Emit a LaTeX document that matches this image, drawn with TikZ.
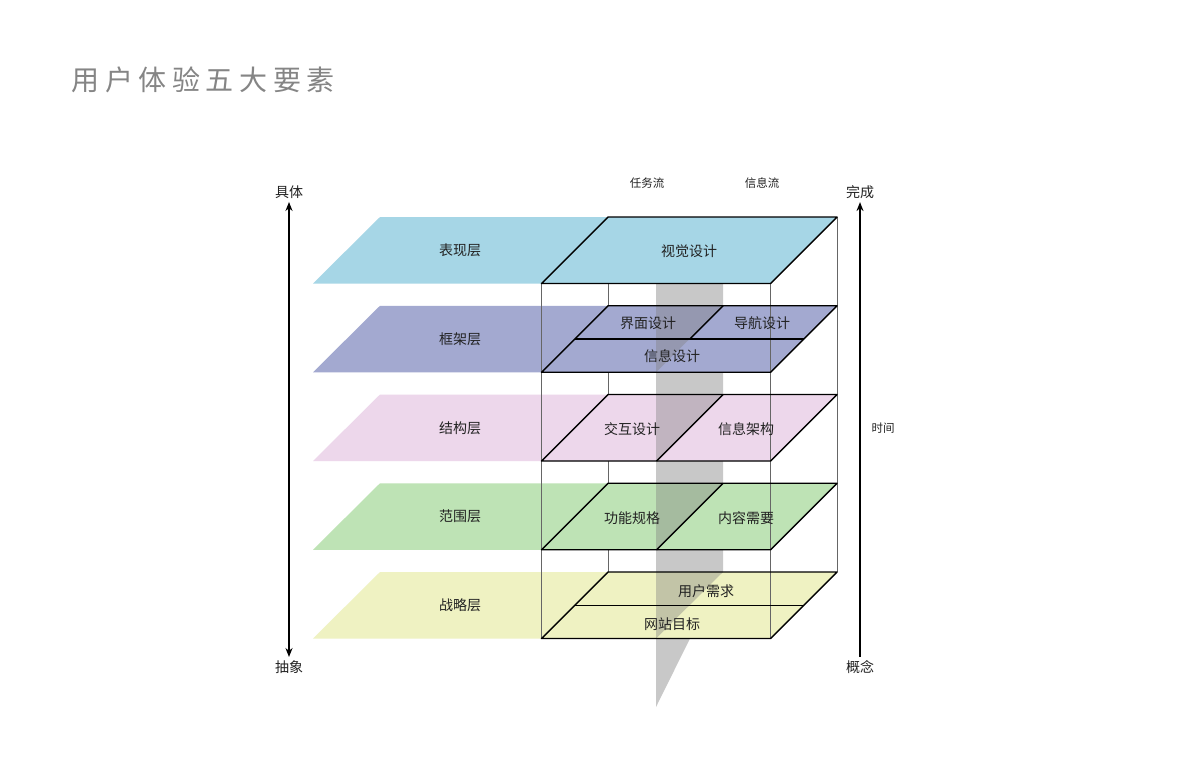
\documentclass[tikz,border=0pt]{standalone}
\usepackage{fontspec}
\setmainfont{Noto Sans CJK SC}
\newfontfamily\titlefont[LetterSpace=20]{Noto Sans CJK SC}
\usetikzlibrary{arrows.meta}
\definecolor{presentc}{HTML}{A6D6E6}
\definecolor{framec}{HTML}{A3A9D0}
\definecolor{structc}{HTML}{EDD7EB}
\definecolor{scopec}{HTML}{BEE3B5}
\definecolor{strategyc}{HTML}{EFF2C2}
\definecolor{flowgray}{HTML}{C8C8C8}
\definecolor{postgray}{HTML}{666666}
\definecolor{titlegray}{HTML}{858585}
\definecolor{ink}{HTML}{222222}
\tikzset{
  lbl/.style={font=\fontsize{14}{16}\selectfont,text=ink},
  smalllbl/.style={font=\fontsize{11.5}{13}\selectfont,text=ink},
  edge/.style={line width=1.4pt,line join=round},
  post/.style={draw=postgray,line width=1pt},
  axis/.style={line width=1.6pt,>={Stealth[length=9pt,width=7pt]}}
}
\begin{document}
\begin{tikzpicture}[x=1pt,y=-1pt]
\fill[white] (0,0) rectangle (1200,777);
\useasboundingbox (0,0) rectangle (1200,777);
\node[anchor=west,font=\titlefont\fontsize{28}{30}\selectfont,text=titlegray] (title) at (68,80) {用户体验五大要素};
% task flow plane
\fill[flowgray] (656,283.5) -- (723,217) -- (723,572) -- (656,707) -- cycle;
\draw[post] (608,217) -- (608,572);
\draw[post] (837,217) -- (837,572);
% the five layers
\foreach \i/\c/\lab/\nm in {0/presentc/表现层/present,1/framec/框架层/frame,2/structc/结构层/struct,3/scopec/范围层/scope,4/strategyc/战略层/strategy}{
  \pgfmathsetmacro\t{217+88.75*\i}
  \pgfmathsetmacro\b{\t+66.5}
  \fill[\c] (380,\t) -- (837,\t) -- (770.5,\b) -- (313,\b) -- cycle;
  \node[lbl] (\nm) at (460,{(\t+\b)/2}) {\lab};
}
\foreach \t in {305.75,394.5,483.25,572}
  \fill[gray,opacity=.4] (656,\t) -- (723,\t) -- (656,\t+66.5) -- cycle;
\draw[post] (541.5,283.5) -- (541.5,638.5);
\draw[post] (770.5,283.5) -- (770.5,638.5);
\foreach \t in {217,305.75,394.5,483.25,572}
  \draw[edge] (608,\t) -- (837,\t) -- (770.5,\t+66.5) -- (541.5,\t+66.5) -- cycle;
\draw[edge] (574.75,339) -- (803.75,339);
\draw[edge] (723,305.75) -- (689.75,339);
\draw[edge] (723,394.5) -- (656.5,461);
\draw[edge] (723,483.25) -- (656.5,549.75);
\draw[edge] (574.75,605.25) -- (803.75,605.25);
% cell labels
\node[lbl] (visual) at (689,251) {视觉设计};
\node[lbl] (iface) at (648,323) {界面设计};
\node[lbl] (navi) at (762,323) {导航设计};
\node[lbl] (infodes) at (672,356) {信息设计};
\node[lbl] (interact) at (632,429) {交互设计};
\node[lbl] (infoarch) at (746,429) {信息架构};
\node[lbl] (funcspec) at (632,518) {功能规格};
\node[lbl] (content) at (746,518) {内容需要};
\node[lbl] (userneed) at (706,591) {用户需求};
\node[lbl] (sitegoal) at (672,624) {网站目标};
\node[smalllbl] (taskflow) at (647,183) {任务流};
\node[smalllbl] (infoflow) at (762,183) {信息流};
% axes
\node[lbl] (concrete) at (289,192) {具体};
\node[lbl] (abstract) at (289,667) {抽象};
\node[lbl] (done) at (860,192) {完成};
\node[lbl] (concept) at (860,667) {概念};
\node[smalllbl] (time) at (883,428) {时间};
\draw[axis,<->] (concrete) -- (abstract);
\draw[axis,->] (concept) -- (done);
\end{tikzpicture}
\end{document}
